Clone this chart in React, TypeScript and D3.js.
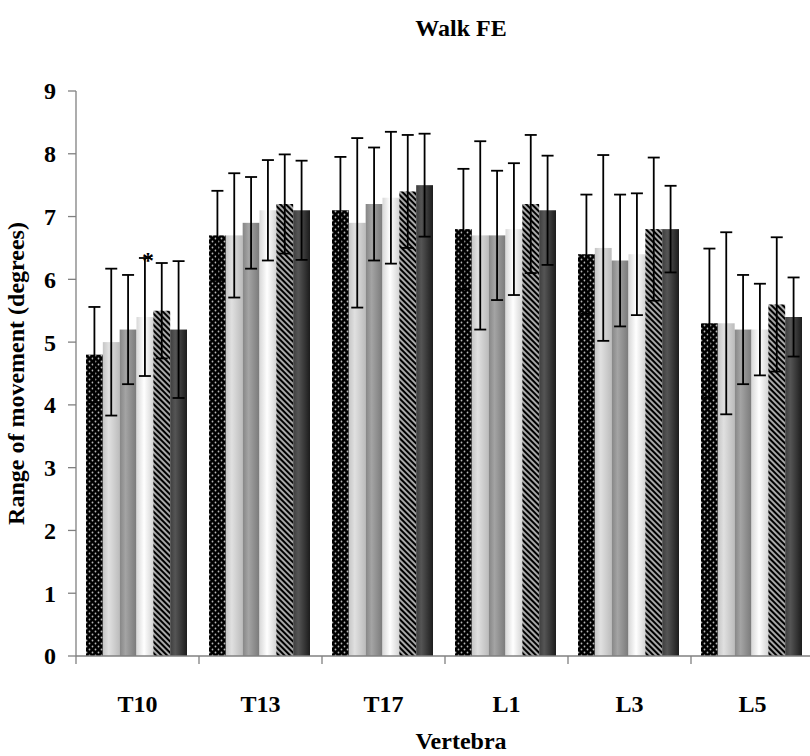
import React from "react";
import * as d3 from "d3";

// Vertebral levels along the x axis
const categories = ["T10", "T13", "T17", "L1", "L3", "L5"];

// Mean range of movement (degrees) per group, one value per vertebra
const group1 = [4.8, 6.7, 7.1, 6.8, 6.4, 5.3];
const group2 = [5.0, 6.7, 6.9, 6.7, 6.5, 5.3];
const group3 = [5.2, 6.9, 7.2, 6.7, 6.3, 5.2];
const group4 = [5.4, 7.1, 7.3, 6.8, 6.4, 5.2];
const group5 = [5.5, 7.2, 7.4, 7.2, 6.8, 5.6];
const group6 = [5.2, 7.1, 7.5, 7.1, 6.8, 5.4];

// Standard deviations for the error bars
const sd1 = [0.76, 0.71, 0.85, 0.96, 0.95, 1.19];
const sd2 = [1.17, 0.99, 1.35, 1.5, 1.48, 1.45];
const sd3 = [0.87, 0.73, 0.9, 1.03, 1.05, 0.87];
const sd4 = [0.94, 0.8, 1.05, 1.05, 0.97, 0.73];
const sd5 = [0.76, 0.79, 0.9, 1.1, 1.14, 1.07];
const sd6 = [1.09, 0.79, 0.82, 0.87, 0.69, 0.63];

const yTicks = [0, 1, 2, 3, 4, 5, 6, 7, 8, 9];

// Significance markers: [category, group index]
const significance: [string, number][] = [["T10", 3]];

const means = [group1, group2, group3, group4, group5, group6];
const sds = [sd1, sd2, sd3, sd4, sd5, sd6];
const fills = [
  "url(#dots)",
  "url(#gLight)",
  "url(#gMid)",
  "url(#gWhite)",
  "url(#stripes)",
  "url(#gDark)",
];

const W = 810;
const H = 756;
const FONT = "'Liberation Serif', 'Times New Roman', serif";
const FS = 24;

export default function App() {
  const x0 = d3
    .scaleBand<string>()
    .domain(categories)
    .range([76, 76 + 123 * categories.length])
    .paddingInner(0)
    .paddingOuter(0);
  const x1 = d3
    .scaleBand<number>()
    .domain(d3.range(means.length))
    .range([10, 111])
    .padding(0);
  const y = d3.scaleLinear().domain([0, 9]).range([656, 91]);

  const axisColor = "#808080";
  const capHalf = 6;

  return (
    <svg
      width={W}
      height={H}
      style={{ position: "absolute", left: 0, top: 0, background: "#fff" }}
      fontFamily={FONT}
    >
      <defs>
        <pattern id="dots" width={6} height={6} patternUnits="userSpaceOnUse">
          <rect width={6} height={6} fill="#000" />
          <circle cx={1.5} cy={1.5} r={0.9} fill="#b8b8b8" />
          <circle cx={4.5} cy={4.5} r={0.9} fill="#b8b8b8" />
        </pattern>
        <pattern
          id="stripes"
          width={4}
          height={4}
          patternUnits="userSpaceOnUse"
          patternTransform="rotate(-45)"
        >
          <rect width={4} height={4} fill="#a8a8a8" />
          <rect width={2} height={4} fill="#000" />
        </pattern>
        <linearGradient id="gLight" x1="0" x2="1" y1="0" y2="0">
          <stop offset="0%" stopColor="#c6c6c6" />
          <stop offset="35%" stopColor="#e0e0e0" />
          <stop offset="100%" stopColor="#bcbcbc" />
        </linearGradient>
        <linearGradient id="gMid" x1="0" x2="1" y1="0" y2="0">
          <stop offset="0%" stopColor="#868686" />
          <stop offset="35%" stopColor="#a4a4a4" />
          <stop offset="100%" stopColor="#7a7a7a" />
        </linearGradient>
        <linearGradient id="gWhite" x1="0" x2="1" y1="0" y2="0">
          <stop offset="0%" stopColor="#d8d8d8" />
          <stop offset="45%" stopColor="#ffffff" />
          <stop offset="100%" stopColor="#d4d4d4" />
        </linearGradient>
        <linearGradient id="gDark" x1="0" x2="1" y1="0" y2="0">
          <stop offset="0%" stopColor="#3e3e3e" />
          <stop offset="30%" stopColor="#555555" />
          <stop offset="100%" stopColor="#1c1c1c" />
        </linearGradient>
      </defs>

      {/* Title */}
      <text x={461} y={36} textAnchor="middle" fontWeight="bold" fontSize={FS}>
        Walk FE
      </text>

      {/* Bars */}
      {categories.map((c, ci) => (
        <g key={c} transform={`translate(${x0(c)},0)`}>
          {means.map((series, si) => (
            <rect
              key={si}
              x={x1(si)}
              y={y(series[ci])}
              width={x1.bandwidth()}
              height={y(0) - y(series[ci])}
              fill={fills[si]}
            />
          ))}
        </g>
      ))}

      {/* Error bars */}
      {categories.map((c, ci) => (
        <g key={c + "-err"} transform={`translate(${x0(c)},0)`}>
          {means.map((series, si) => {
            const cx = (x1(si) as number) + x1.bandwidth() / 2;
            const hi = y(series[ci] + sds[si][ci]);
            const lo = y(series[ci] - sds[si][ci]);
            return (
              <g key={si} stroke="#000" strokeWidth={1.8}>
                <line x1={cx} x2={cx} y1={hi} y2={lo} />
                <line x1={cx - capHalf} x2={cx + capHalf} y1={hi} y2={hi} />
                <line x1={cx - capHalf} x2={cx + capHalf} y1={lo} y2={lo} />
              </g>
            );
          })}
        </g>
      ))}

      {/* Significance markers */}
      {significance.map(([c, si]) => {
        const ci = categories.indexOf(c);
        const cx = (x0(c) as number) + (x1(si) as number) + x1.bandwidth() / 2;
        const top = y(means[si][ci] + sds[si][ci]);
        return (
          <text
            key={c + si}
            x={cx + 3}
            y={top + 10}
            textAnchor="middle"
            fontSize={24}
            fontWeight="bold"
          >
            *
          </text>
        );
      })}

      {/* Y axis */}
      <line x1={76} x2={76} y1={y(9)} y2={y(0)} stroke={axisColor} strokeWidth={1.3} />
      {yTicks.map((t) => (
        <g key={t}>
          <line x1={68} x2={76} y1={y(t)} y2={y(t)} stroke={axisColor} strokeWidth={1.3} />
          <text
            x={56}
            y={y(t)}
            dy="0.35em"
            textAnchor="end"
            fontWeight="bold"
            fontSize={FS}
          >
            {t}
          </text>
        </g>
      ))}

      {/* X axis */}
      <line
        x1={76}
        x2={76 + 123 * categories.length}
        y1={y(0)}
        y2={y(0)}
        stroke={axisColor}
        strokeWidth={1.3}
      />
      {d3.range(categories.length + 1).map((i) => (
        <line
          key={i}
          x1={76 + 123 * i}
          x2={76 + 123 * i}
          y1={y(0)}
          y2={y(0) + 8}
          stroke={axisColor}
          strokeWidth={1.3}
        />
      ))}
      {categories.map((c) => (
        <text
          key={c + "-lbl"}
          x={(x0(c) as number) + x0.bandwidth() / 2}
          y={712}
          textAnchor="middle"
          fontWeight="bold"
          fontSize={FS}
        >
          {c}
        </text>
      ))}

      {/* Axis titles */}
      <text x={461} y={749} textAnchor="middle" fontWeight="bold" fontSize={FS}>
        Vertebra
      </text>
      <text
        transform={`translate(24,${(y(0) + y(9)) / 2}) rotate(-90)`}
        textAnchor="middle"
        fontWeight="bold"
        fontSize={FS}
      >
        Range of movement (degrees)
      </text>
    </svg>
  );
}
